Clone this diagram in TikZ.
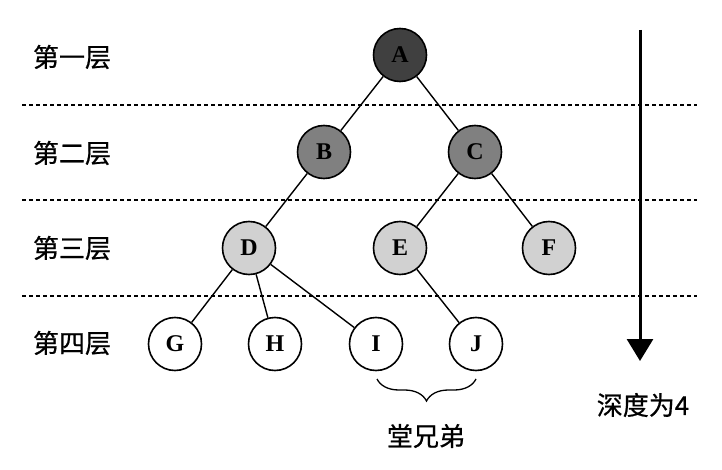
\documentclass[tikz,border=0pt]{standalone}
\usepackage{fontspec}
\setmainfont{Liberation Serif}
\newfontfamily\cjk[FakeBold=0.6]{Noto Sans CJK SC}
\usetikzlibrary{arrows.meta,decorations.pathreplacing}
\begin{document}
\begin{tikzpicture}[x=1pt,y=-1pt,
  tnode/.style={circle,draw=black,line width=1.6pt,minimum size=53pt,inner sep=0pt,
    font=\fontsize{24}{24}\selectfont\bfseries},
  lvA/.style={tnode,fill=black!75},
  lvB/.style={tnode,fill=black!50},
  lvC/.style={tnode,fill=black!18},
  lvD/.style={tnode,fill=white},
  edge/.style={line width=1.4pt},
  sep/.style={line width=1.3pt,dash pattern=on 4pt off 3pt},
  lbl/.style={font=\cjk\fontsize{26}{26}\selectfont},
]
\useasboundingbox (0,0) rectangle (722,470);
% level separators
\draw[sep] (22,105) -- (697,105);
\draw[sep] (22,200) -- (697,200);
\draw[sep] (22,296) -- (697,296);
% level labels
\node[lbl] (l1) at (72,57) {第一层};
\node[lbl] (l2) at (72,153) {第二层};
\node[lbl] (l3) at (72,248) {第三层};
\node[lbl] (l4) at (72,343) {第四层};
% nodes
\node[lvA] (A) at (400,55) {A};
\node[lvB] (B) at (324,152) {B};
\node[lvB] (C) at (475,152) {C};
\node[lvC] (D) at (249,248) {D};
\node[lvC] (E) at (400,248) {E};
\node[lvC] (F) at (549,248) {F};
\node[lvD] (G) at (175,344) {G};
\node[lvD] (H) at (275,344) {H};
\node[lvD] (I) at (376,344) {I};
\node[lvD] (J) at (476,344) {J};
% edges
\draw[edge] (A) -- (B);
\draw[edge] (A) -- (C);
\draw[edge] (B) -- (D);
\draw[edge] (C) -- (E);
\draw[edge] (C) -- (F);
\draw[edge] (D) -- (G);
\draw[edge] (D) -- (H);
\draw[edge] (D) -- (I);
\draw[edge] (E) -- (J);
% brace
\coordinate (b1) at (377,379);
\coordinate (b2) at (476,379);
\draw[line width=1.3pt,decorate,decoration={brace,mirror,amplitude=22pt,aspect=0.5}] (b1) -- (b2);
\node[lbl] (cousin) at (426,436) {堂兄弟};
% depth arrow
\coordinate (d0) at (640,30);
\coordinate (d1) at (640,361);
\draw[line width=3pt,-{Triangle[length=22pt,width=26pt]}] (d0) -- (d1);
\node[lbl] (depth) at (643,405) {深度为4};
\end{tikzpicture}
\end{document}
